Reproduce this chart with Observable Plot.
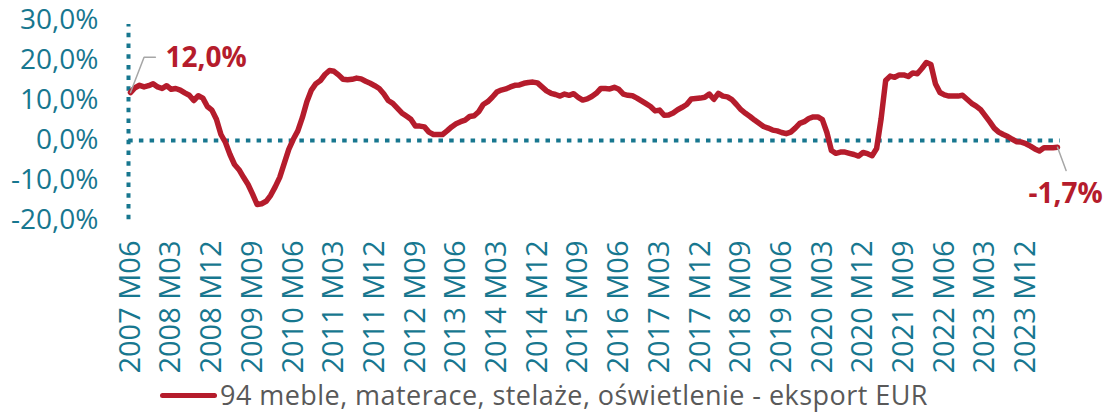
<!DOCTYPE html>
<html>
<head>
<meta charset="utf-8">
<script src="https://cdn.jsdelivr.net/npm/d3@7"></script>
<script src="https://cdn.jsdelivr.net/npm/@observablehq/plot@0.6"></script>
<style>
  html, body { margin: 0; padding: 0; background: #fff; }
  #wrap { position: relative; width: 1104px; height: 414px; overflow: hidden; }
  #legend { position: absolute; left: 160px; top: 381px; height: 28px; display: flex; align-items: center;
            font-family: 'Open Sans', sans-serif; font-size: 27px; line-height: 28px; letter-spacing: 0.45px;
            color: #595959; white-space: nowrap; }
  #legend .sw { width: 57px; height: 5px; border-radius: 3px; background: #b51c2c; margin-right: 3px; }
</style>
</head>
<body>
<div id="wrap"><div id="chart"></div><div id="legend"><span class="sw"></span><span id="legtext"></span></div></div>
<script>
// ---- data ----
const seriesName = "94 meble, materace, stelaże, oświetlenie - eksport EUR";
const startYear = 2007, startMonth = 6;
const values = [
  12.0, 13.2, 13.8, 13.4, 13.7, 14.2, 13.4, 13.0, 13.7, 12.8,
  13.0, 12.6, 11.9, 11.3, 10.0, 11.2, 10.6, 8.5, 7.6, 5.3,
  1.5, -0.5, -3.5, -6.0, -7.3, -9.2, -11.0, -13.4, -16.0, -15.8,
  -15.2, -13.7, -11.6, -9.2, -5.7, -2.2, 0.3, 2.4, 5.7, 9.7,
  12.6, 14.2, 15.0, 16.5, 17.5, 17.3, 16.4, 15.3, 15.2, 15.3,
  15.6, 15.4, 14.8, 14.3, 13.7, 13.0, 11.7, 10.0, 9.3, 8.1,
  6.9, 6.1, 5.3, 3.6, 3.6, 3.4, 2.1, 1.5, 1.5, 1.5,
  2.4, 3.4, 4.2, 4.7, 5.1, 6.0, 6.2, 7.2, 9.0, 9.7,
  10.8, 12.1, 12.6, 12.9, 13.4, 13.8, 13.9, 14.3, 14.5, 14.6,
  14.4, 13.4, 12.4, 11.8, 11.5, 11.1, 11.6, 11.3, 11.7, 10.8,
  10.1, 10.4, 11.0, 11.8, 13.0, 13.0, 12.9, 13.3, 12.8, 11.6,
  11.3, 11.2, 10.6, 9.9, 9.2, 8.5, 7.4, 7.6, 6.3, 6.4,
  6.9, 7.7, 8.3, 9.0, 10.4, 10.5, 10.6, 10.8, 11.6, 10.3,
  11.8, 11.1, 10.9, 10.2, 9.0, 7.7, 6.8, 6.0, 5.1, 4.3,
  3.5, 3.1, 2.6, 2.4, 2.0, 1.7, 2.1, 3.1, 4.3, 4.7,
  5.5, 5.9, 5.9, 5.2, 2.0, -2.5, -3.2, -2.9, -2.9, -3.2,
  -3.5, -3.9, -3.0, -3.3, -3.8, -2.0, 5.5, 15.0, 16.1, 15.8,
  16.4, 16.4, 16.0, 16.9, 16.7, 18.0, 19.5, 19.0, 14.2, 12.0,
  11.4, 11.1, 11.1, 11.1, 11.3, 10.3, 9.3, 8.6, 7.7, 6.2,
  4.7, 3.1, 2.1, 1.5, 1.0, 0.3, -0.3, -0.4, -0.8, -1.4,
  -2.1, -2.6, -1.8, -1.8, -1.8, -1.7
];
const tickLabels = [
  "2007 M06", "2008 M03", "2008 M12", "2009 M09", "2010 M06", "2011 M03",
  "2011 M12", "2012 M09", "2013 M06", "2014 M03", "2014 M12", "2015 M09",
  "2016 M06", "2017 M03", "2017 M12", "2018 M09", "2019 M06", "2020 M03",
  "2020 M12", "2021 M09", "2022 M06", "2023 M03", "2023 M12"
];
const tickStep = 9;
const yTicks = [-20, -10, 0, 10, 20, 30];

// ---- build ----
const RED = "#b51c2c", TEAL = "#17778f", GREY = "#a6a6a6";
const months = values.map((_, i) => {
  const m = startMonth - 1 + i;
  return `${startYear + Math.floor(m / 12)} M${String(m % 12 + 1).padStart(2, "0")}`;
});
const data = values.map((v, i) => ({i, month: months[i], v}));
const first = data[0], last = data[data.length - 1];
const fmt = d => d.toFixed(1).replace(".", ",") + "%";
const tickIdx = tickLabels.map((_, k) => k * tickStep);

const leaderFirst = [
  {i: first.i, v: first.v},
  {i: first.i + 3, v: first.v + 8.8},
  {i: first.i + 5.5, v: first.v + 8.8}
];
const leaderLast = [
  {i: last.i, v: last.v},
  {i: last.i + 1.9, v: last.v - 5.8}
];

const chart = Plot.plot({
  width: 1104,
  height: 380,
  marginLeft: 130,
  marginRight: 47,
  marginTop: 20,
  marginBottom: 160,
  style: {fontFamily: "'Open Sans', sans-serif", background: "#fff", overflow: "visible"},
  x: {type: "linear", domain: [0, values.length - 1]},
  y: {domain: [-20, 30]},
  marks: [
    Plot.axisY({ticks: yTicks, tickSize: 0, tickPadding: 32, tickFormat: fmt, fontSize: 28, color: TEAL, label: null}),
    Plot.axisX({ticks: tickIdx, tickFormat: i => tickLabels[Math.round(i / tickStep)], tickRotate: -90,
                tickSize: 0, tickPadding: 20, fontSize: 29, color: TEAL, label: null}),
    Plot.ruleY([0], {stroke: TEAL, strokeWidth: 4, strokeDasharray: "4.5,6.2", x1: -0.4, x2: values.length - 0.4}),
    Plot.ruleX([0], {stroke: TEAL, strokeWidth: 4, strokeDasharray: "4.5,6.2", y1: -19.8, y2: 29, dx: -2}),
    Plot.line(data, {x: "i", y: "v", stroke: RED, strokeWidth: 5.5, strokeLinejoin: "round", strokeLinecap: "round"}),
    Plot.line(leaderFirst, {x: "i", y: "v", stroke: GREY, strokeWidth: 1.5}),
    Plot.line(leaderLast, {x: "i", y: "v", stroke: GREY, strokeWidth: 1.5}),
    Plot.text([first], {x: "i", y: "v", text: d => fmt(d.v), dx: 35, dy: -34, textAnchor: "start",
                        fontWeight: "bold", fontSize: 28, fill: RED}),
    Plot.text([last], {x: "i", y: "v", text: d => fmt(d.v), dx: 8, dy: 47, textAnchor: "middle",
                       fontWeight: "bold", fontSize: 28, fill: RED})
  ]
});
document.getElementById("chart").appendChild(chart);
document.getElementById("legtext").textContent = seriesName;
</script>
</body>
</html>
